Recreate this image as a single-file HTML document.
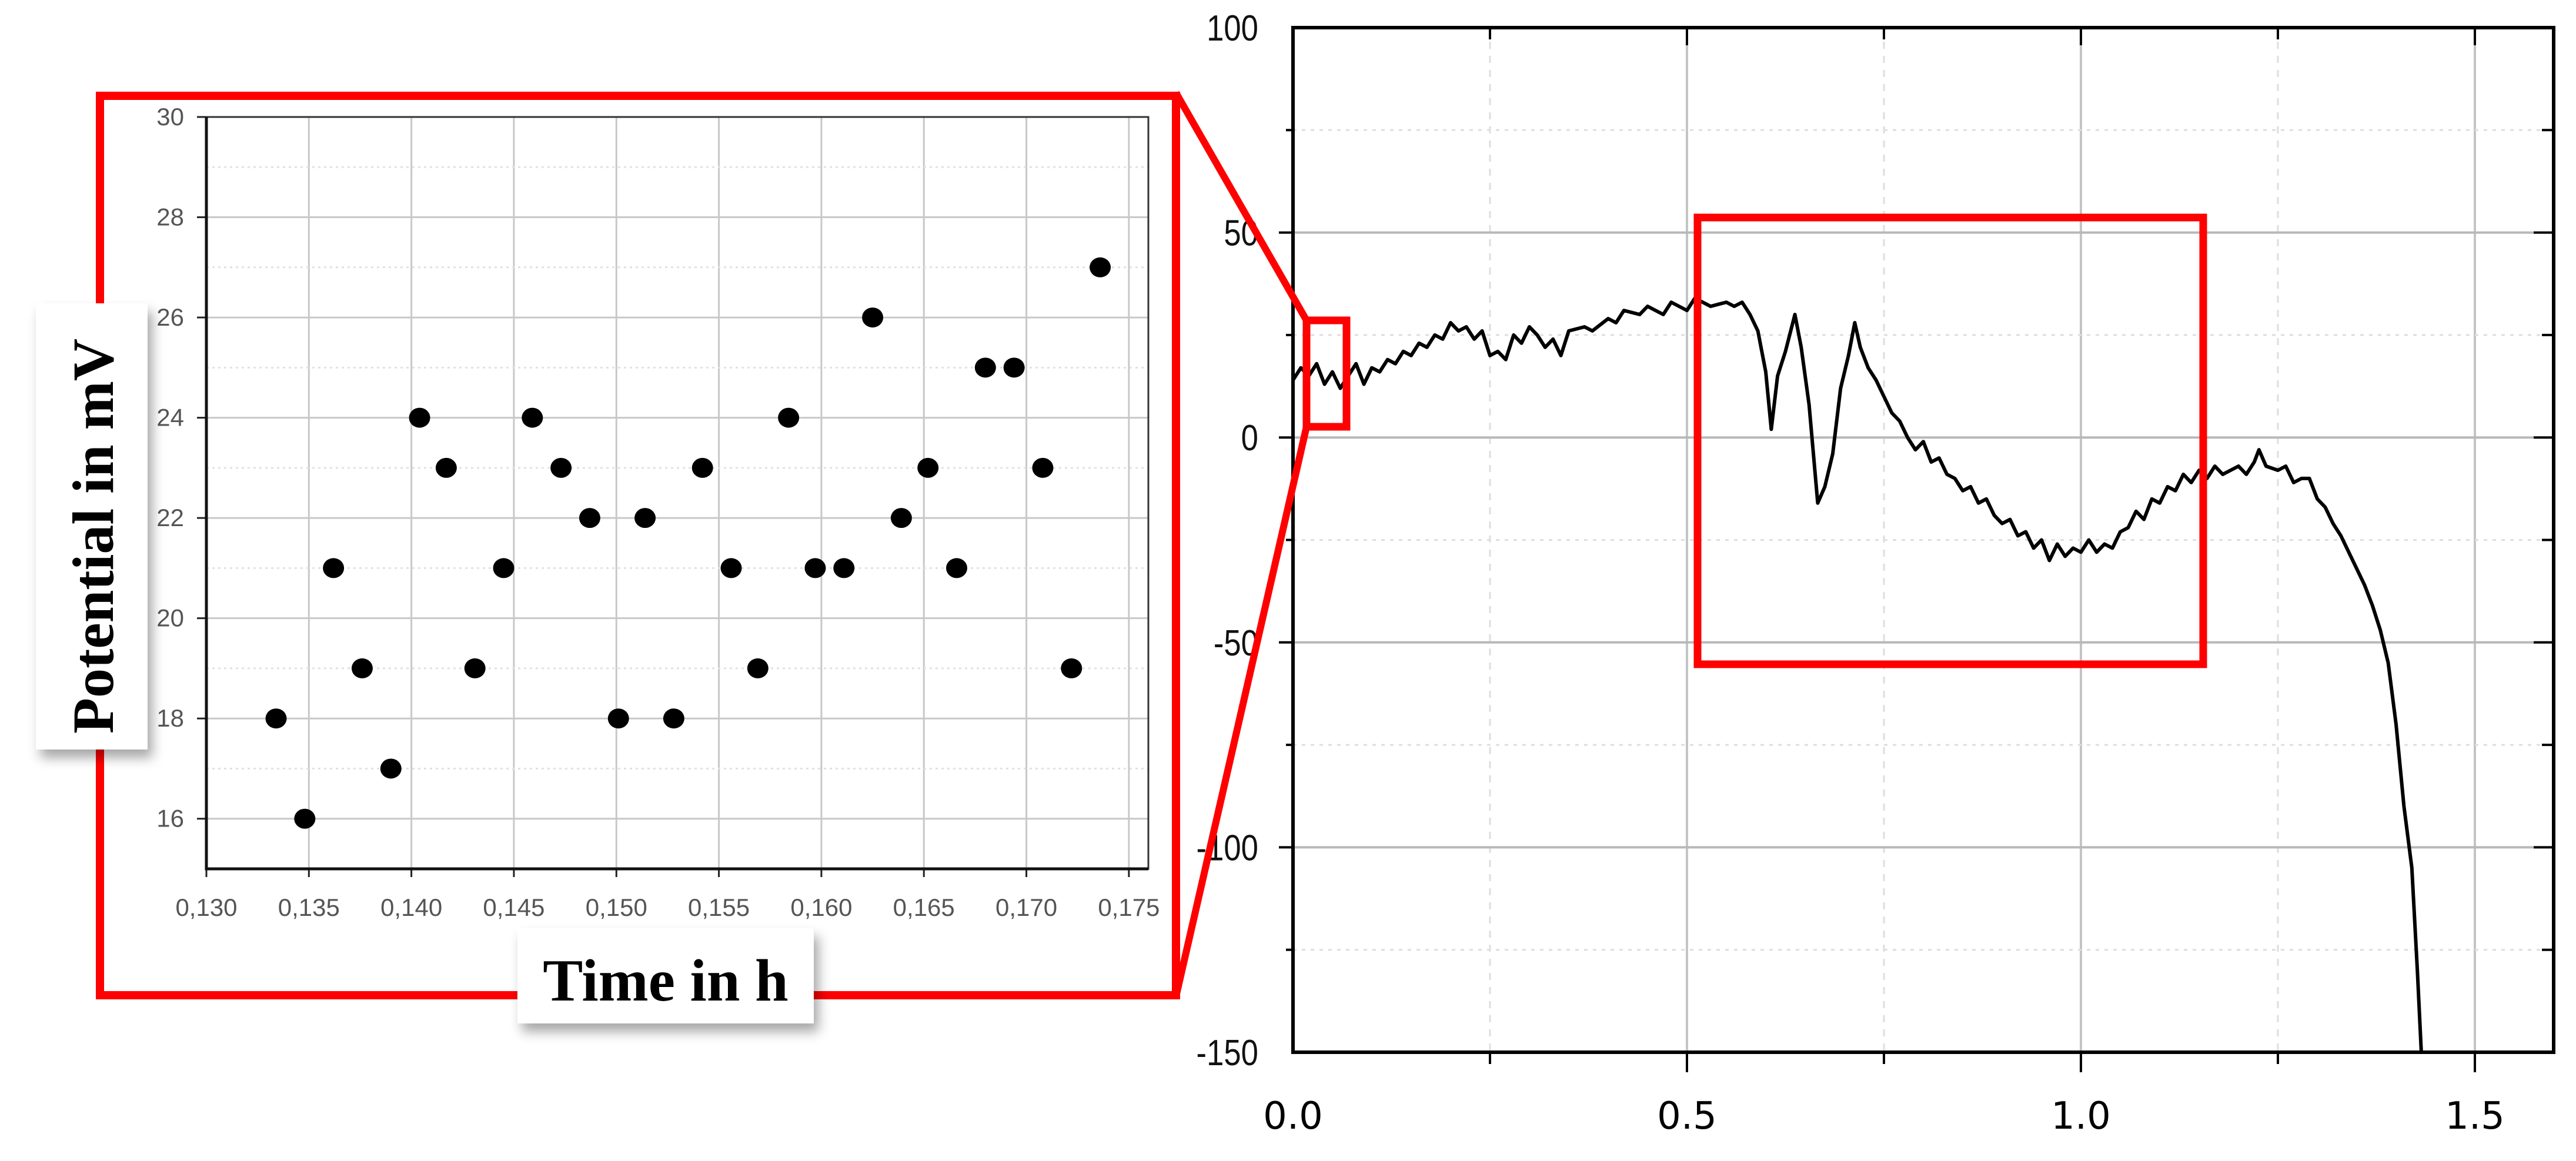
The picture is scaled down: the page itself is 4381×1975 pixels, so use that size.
<!DOCTYPE html>
<html><head><meta charset="utf-8"><style>
html,body{margin:0;padding:0;background:#fff;}
svg{display:block;}
</style></head><body>
<svg id="root" width="4381" height="1975" viewBox="0 0 4381 1975" xmlns="http://www.w3.org/2000/svg">
<defs>
<filter id="sh" x="-20%" y="-20%" width="150%" height="150%"><feDropShadow dx="8" dy="14" stdDeviation="10" flood-color="#000" flood-opacity="0.35"/></filter>
</defs>
<rect x="0" y="0" width="4381" height="1975" fill="#fff"/>
<g id="inset"></g>
<g id="main"></g>
<g id="overlay"></g>
</svg>
<script>
// ---------- inset scatter data ----------
const insetTimes = [0.1334,0.1348,0.1362,0.1376,0.1390,0.1404,0.1417,0.1431,0.1445,0.1459,0.1473,0.1487,0.1501,0.1514,0.1528,0.1542,0.1556,0.1569,0.1584,0.1597,0.1611,0.1625,0.1639,0.1652,0.1666,0.1680,0.1694,0.1708,0.1722,0.1736];
const insetPotentials = [18,16,21,19,17,24,23,19,21,24,23,22,18,22,18,23,21,19,24,21,21,26,22,23,21,25,25,23,19,27];
const insetXTicks = ["0.130","0.135","0.140","0.145","0.150","0.155","0.160","0.165","0.170","0.175"];
const insetYTicks = ["16","18","20","22","24","26","28","30"];
// ---------- main line data ----------
const mainTimes = [0.00,0.01,0.02,0.03,0.04,0.05,0.06,0.07,0.08,0.09,0.10,0.11,0.12,0.13,0.14,0.15,0.16,0.17,0.18,0.19,0.20,0.21,0.22,0.23,0.24,0.25,0.26,0.27,0.28,0.29,0.30,0.31,0.32,0.33,0.34,0.35,0.37,0.38,0.40,0.41,0.42,0.44,0.45,0.47,0.48,0.50,0.51,0.53,0.55,0.56,0.57,0.58,0.59,0.60,0.607,0.615,0.625,0.637,0.645,0.655,0.666,0.675,0.685,0.695,0.705,0.713,0.72,0.73,0.74,0.75,0.76,0.77,0.78,0.79,0.80,0.81,0.82,0.83,0.84,0.85,0.86,0.87,0.88,0.89,0.90,0.91,0.92,0.93,0.94,0.95,0.96,0.97,0.98,0.99,1.00,1.01,1.02,1.03,1.04,1.05,1.06,1.07,1.08,1.09,1.10,1.11,1.12,1.13,1.14,1.15,1.16,1.17,1.18,1.19,1.20,1.21,1.22,1.226,1.235,1.25,1.26,1.27,1.28,1.29,1.30,1.31,1.32,1.33,1.34,1.35,1.36,1.37,1.38,1.39,1.40,1.41,1.42,1.427,1.432,1.435];
const mainPotentials = [14,17,15,18,13,16,12,15,18,13,17,16,19,18,21,20,23,22,25,24,28,26,27,24,26,20,21,19,25,23,27,25,22,24,20,26,27,26,29,28,31,30,32,30,33,31,34,32,33,32,33,30,26,16,2,15,21,30,22,8,-16,-12,-4,12,20,28,22,17,14,10,6,4,0,-3,-1,-6,-5,-9,-10,-13,-12,-16,-15,-19,-21,-20,-24,-23,-27,-25,-30,-26,-29,-27,-28,-25,-28,-26,-27,-23,-22,-18,-20,-15,-16,-12,-13,-9,-11,-8,-10,-7,-9,-8,-7,-9,-6,-3,-7,-8,-7,-11,-10,-10,-15,-17,-21,-24,-28,-32,-36,-41,-47,-55,-70,-90,-105,-130,-150];
const mainXTicks = ["0.0","0.5","1.0","1.5"];
const mainYTicks = ["-150","-100","-50","0","50","100"];

const NS="http://www.w3.org/2000/svg";
function mk(tag, attrs, parent){const e=document.createElementNS(NS,tag);for(const k in attrs)e.setAttribute(k,attrs[k]);parent.appendChild(e);return e;}

// ---------- inset ----------
(function(){
  const g=document.getElementById('inset');
  const L=351,R=1953,T=199,B=1478, xmin=0.130, xmax=0.17595, ymin=15, ymax=30;
  const sx=v=>L+(v-xmin)/(xmax-xmin)*(R-L);
  const sy=v=>B-(v-ymin)/(ymax-ymin)*(B-T);
  for(let i=0;i<insetXTicks.length;i++){
    const v=parseFloat(insetXTicks[i]); const x=sx(v);
    const l=mk('line',{x1:x,y1:T,x2:x,y2:B,stroke:'#c8c8c8','stroke-width':3},g);
    
    
    const tk=mk('line',{x1:x,y1:B,x2:x,y2:B+14,stroke:'#222','stroke-width':3},g);
    
    
    const t=mk('text',{x:x,y:B+80,'text-anchor':'middle','font-family':'Liberation Sans, sans-serif','font-size':42,fill:'#555'},g);
    t.textContent=insetXTicks[i].replace('.',',');
    
    
  }
  for(let v=16; v<=29; v++){
    const y=sy(v); const major=(v%2===0);
    const l=mk('line',{x1:L,y1:y,x2:R,y2:y,stroke:major?'#c8c8c8':'#e2e2e2','stroke-width':3,'stroke-dasharray':major?'none':'4 6'},g);
    
    
  }
  for(let i=0;i<insetYTicks.length;i++){
    const v=parseFloat(insetYTicks[i]); const y=sy(v);
    const tk=mk('line',{x1:L-16,y1:y,x2:L,y2:y,stroke:'#222','stroke-width':3},g);
    
    
    const t=mk('text',{x:L-38,y:y+14,'text-anchor':'end','font-family':'Liberation Sans, sans-serif','font-size':42,fill:'#555'},g);
    t.textContent=insetYTicks[i];
    
    
  }
  const fr=mk('rect',{x:L,y:T,width:R-L,height:B-T,fill:'none',stroke:'#333','stroke-width':3},g);
  
  
  const ax=mk('path',{d:`M${L},${T} L${L},${B} L${R},${B}`,fill:'none',stroke:'#111','stroke-width':5},g);
  
  
  for(let i=0;i<insetTimes.length;i++){
    const c=mk('ellipse',{cx:sx(insetTimes[i]),cy:sy(insetPotentials[i]),rx:18,ry:17,fill:'#000'},g);
    
    
  }
})();

// ---------- main ----------
(function(){
  const g=document.getElementById('main');
  const L=2199,R=4343,T=47,B=1790, xmin=0, xmax=1.6, ymin=-150, ymax=100;
  const sx=v=>L+(v-xmin)/(xmax-xmin)*(R-L);
  const sy=v=>B-(v-ymin)/(ymax-ymin)*(B-T);
  for(let v=0.25; v<1.6; v+=0.25){
    const x=sx(v); const major=Math.abs(v*2-Math.round(v*2))<1e-6;
    const l=mk('line',{x1:x,y1:T,x2:x,y2:B,stroke:major?'#c4c4c4':'#dedede','stroke-width':major?4:3,'stroke-dasharray':major?'none':'12 12'},g);
    
    
    const tk=mk('line',{x1:x,y1:B,x2:x,y2:B+(major?34:20),stroke:'#000','stroke-width':4},g);
    
    
    const tk2=mk('line',{x1:x,y1:T,x2:x,y2:T+(major?30:20),stroke:'#000','stroke-width':4},g);
    
    
  }
  for(let v=-125; v<100; v+=25){
    const y=sy(v); const major=(v%50===0);
    const l=mk('line',{x1:L,y1:y,x2:R,y2:y,stroke:major?'#b8b8b8':'#dedede','stroke-width':major?4:3,'stroke-dasharray':major?'none':'6 9'},g);
    
    
    const tk=mk('line',{x1:L-(major?24:12),y1:y,x2:L,y2:y,stroke:'#000','stroke-width':4},g);
    
    
    const tk2=mk('line',{x1:R-(major?34:20),y1:y,x2:R,y2:y,stroke:'#000','stroke-width':4},g);
    
    
  }
  for(let i=0;i<mainXTicks.length;i++){
    const x=sx(parseFloat(mainXTicks[i]));
    const t=mk('text',{x:x,y:1920,'text-anchor':'middle','font-family':'DejaVu Sans, sans-serif','font-size':64,fill:'#000'},g);
    t.textContent=mainXTicks[i];
    
    
  }
  for(let i=0;i<mainYTicks.length;i++){
    const y=sy(parseFloat(mainYTicks[i]));
    const t=mk('text',{x:2140,y:y+22,'text-anchor':'end','font-family':'Liberation Sans, sans-serif','font-size':62,fill:'#111',transform:`translate(2140,0) scale(0.85,1) translate(-2140,0)`},g);
    t.textContent=mainYTicks[i];
    
    
  }
  const ax=mk('rect',{x:L,y:T,width:R-L,height:B-T,fill:'none',stroke:'#000','stroke-width':6},g);
  
  
  let d='';
  for(let i=0;i<mainTimes.length;i++){d+=(i?'L':'M')+sx(mainTimes[i]).toFixed(1)+','+sy(mainPotentials[i]).toFixed(1);}
  const p=mk('path',{d:d,fill:'none',stroke:'#000','stroke-width':6,'stroke-linejoin':'round'},g);
  
  
})();

// ---------- overlay ----------
(function(){
  const g=document.getElementById('overlay');
  const items=[
    ['rect',{x:170,y:163,width:1830,height:1530,fill:'none',stroke:'#f00','stroke-width':14},'inset-zoom-frame'],
    ['line',{x1:2000,y1:158,x2:2222,y2:545,stroke:'#f00','stroke-width':12},'zoom-connector-top'],
    ['line',{x1:2000,y1:1695,x2:2222,y2:726,stroke:'#f00','stroke-width':12},'zoom-connector-bottom'],
    ['rect',{x:2222,y:545,width:68,height:181,fill:'none',stroke:'#f00','stroke-width':13},'small-zoom-box'],
    ['rect',{x:2887,y:370,width:860,height:760,fill:'none',stroke:'#f00','stroke-width':13},'highlight-region-box']
  ];
  for(const it of items){const e=mk(it[0],it[1],g);}
  const yb=mk('rect',{x:61,y:516,width:190,height:759,fill:'#fff',filter:'url(#sh)'},g);
  
  
  const yt=mk('text',{x:0,y:0,'text-anchor':'middle','font-family':'Liberation Serif, serif','font-weight':'bold','font-size':100,fill:'#000',transform:'translate(192,912) rotate(-90)'},g);
  yt.textContent='Potential in mV';
  
  
  const xb=mk('rect',{x:880,y:1579,width:504,height:162,fill:'#fff',filter:'url(#sh)'},g);
  
  
  const xt=mk('text',{x:1132,y:1702,'text-anchor':'middle','font-family':'Liberation Serif, serif','font-weight':'bold','font-size':102,fill:'#000'},g);
  xt.textContent='Time in h';
  
  
})();
</script>
</body></html>
